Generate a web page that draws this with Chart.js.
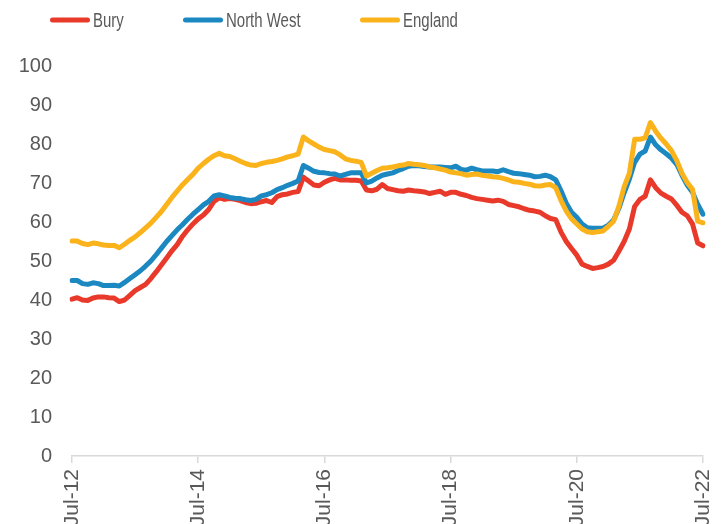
<!DOCTYPE html>
<html><head><meta charset="utf-8">
<script src="https://cdn.jsdelivr.net/npm/chart.js@4"></script>
<style>
html,body{margin:0;padding:0;background:#fff;overflow:hidden;}
#wrap{position:relative;width:724px;height:524px;}
</style></head><body>
<div id="wrap"><canvas id="c" width="724" height="524"></canvas></div>
<script>
const monthNames = ['Jan','Feb','Mar','Apr','May','Jun','Jul','Aug','Sep','Oct','Nov','Dec'];
const categories = [];
for (let i = 0; i <= 120; i++) {
  const m = 6 + i;
  categories.push(monthNames[m % 12] + '-' + String(12 + Math.floor(m / 12)));
}
const tickLabels = ['Jul-12','Jul-14','Jul-16','Jul-18','Jul-20','Jul-22'];
const yTicks = [0,10,20,30,40,50,60,70,80,90,100];
const seriesNames = ['Bury','North West','England'];

const bury = [40.2,40.6,40.0,39.9,40.5,40.8,40.8,40.6,40.5,39.6,
  40.0,41.2,42.4,43.2,44.0,45.5,47.2,49.0,50.8,52.6,
  54.2,56.3,58.0,59.5,60.8,61.8,63.2,65.3,66.2,65.8,
  66.0,65.8,65.5,65.0,64.7,64.8,65.2,65.5,65.0,66.5,
  67.0,67.2,67.6,67.8,71.5,70.5,69.5,69.3,70.2,70.8,
  71.2,70.8,70.8,70.7,70.7,70.5,68.2,68.0,68.4,69.6,
  68.6,68.3,68.0,67.9,68.2,68.0,67.9,67.7,67.3,67.6,
  67.9,67.1,67.6,67.6,67.1,66.8,66.3,66.0,65.8,65.6,
  65.4,65.6,65.3,64.5,64.2,63.9,63.4,63.0,62.8,62.5,
  61.6,60.9,60.6,57.4,55.0,53.2,51.5,49.2,48.6,48.1,
  48.3,48.6,49.2,50.2,52.5,55.0,58.2,64.0,65.8,66.6,
  70.8,68.8,67.4,66.6,65.9,64.3,62.5,61.6,59.5,54.6,
  53.9];
const northWest = [45.0,45.0,44.2,44.0,44.4,44.2,43.7,43.7,43.8,43.6,
  44.5,45.5,46.5,47.5,48.7,50.0,51.6,53.3,55.0,56.5,
  58.0,59.3,60.7,62.0,63.2,64.4,65.3,66.7,67.0,66.7,
  66.3,66.1,66.0,65.7,65.5,65.8,66.7,67.0,67.5,68.3,
  68.8,69.4,69.9,70.5,74.5,73.8,73.0,72.7,72.6,72.4,
  72.3,71.8,72.2,72.6,72.6,72.6,70.0,70.5,71.3,72.0,
  72.3,72.6,73.2,73.7,74.3,74.5,74.4,74.2,74.1,74.1,
  74.1,74.0,73.9,74.3,73.5,73.3,73.8,73.4,73.1,73.1,
  73.1,72.9,73.4,72.9,72.5,72.4,72.2,72.0,71.6,71.7,
  72.0,71.6,70.8,68.0,64.8,62.5,61.2,59.5,58.5,58.4,
  58.4,58.4,59.2,60.5,63.5,67.5,71.0,75.3,77.4,78.2,
  81.8,79.8,78.5,77.5,76.4,74.8,72.0,69.5,67.6,64.5,
  62.0];
const england = [55.1,55.1,54.5,54.2,54.6,54.4,54.1,54.0,54.0,53.4,
  54.3,55.3,56.2,57.3,58.5,59.7,61.2,62.7,64.5,66.3,
  67.9,69.5,70.9,72.2,73.8,75.0,76.1,77.0,77.6,77.0,
  76.8,76.2,75.6,75.0,74.6,74.5,75.0,75.3,75.5,75.8,
  76.2,76.7,77.0,77.4,81.8,80.8,80.0,79.2,78.6,78.3,
  78.0,77.2,76.2,75.8,75.6,75.3,71.8,72.5,73.2,73.8,
  73.9,74.1,74.4,74.6,75.0,74.8,74.7,74.5,74.1,73.9,
  73.6,73.3,72.8,72.6,72.4,72.0,72.2,72.3,72.0,71.8,
  71.6,71.5,71.2,70.8,70.3,70.2,69.9,69.7,69.3,69.2,
  69.5,69.6,68.8,65.5,62.8,60.8,59.5,58.2,57.5,57.3,
  57.5,57.7,58.9,60.2,64.0,69.0,72.5,81.2,81.2,81.6,
  85.5,83.3,81.5,80.0,78.3,75.8,72.5,70.1,68.4,60.2,
  59.8];

const colors = ['#E8392A','#1B88C1','#FBB31B'];
const FONT = '"Liberation Sans",Arial,sans-serif';
const textColor = '#595959';

const legendPlugin = {
  id: 'customLegend',
  afterDraw(chart) {
    const ctx = chart.ctx;
    const xs = [50, 183, 360];
    ctx.save();
    chart.data.datasets.forEach((ds, i) => {
      const x = xs[i];
      ctx.strokeStyle = ds.borderColor;
      ctx.lineWidth = 5;
      ctx.lineCap = 'round';
      ctx.beginPath();
      ctx.moveTo(x + 2.5, 20);
      ctx.lineTo(x + 37.5, 20);
      ctx.stroke();
      ctx.save();
      ctx.translate(x + 43, 27);
      ctx.scale(0.73, 1);
      ctx.fillStyle = textColor;
      ctx.font = '20.5px ' + FONT;
      ctx.textBaseline = 'alphabetic';
      ctx.textAlign = 'left';
      ctx.fillText(ds.label, 0, 0);
      ctx.restore();
    });
    ctx.restore();
  }
};

new Chart(document.getElementById('c'), {
  type: 'line',
  data: {
    labels: categories,
    datasets: [
      {label: seriesNames[0], data: bury, borderColor: colors[0], order: 3},
      {label: seriesNames[1], data: northWest, borderColor: colors[1], order: 2},
      {label: seriesNames[2], data: england, borderColor: colors[2], order: 1}
    ]
  },
  options: {
    responsive: false,
    animation: false,
    devicePixelRatio: 1,
    layout: {padding: {top: 66, right: 21, left: 0, bottom: 0}},
    elements: {
      line: {borderWidth: 5, tension: 0, borderJoinStyle: 'round', borderCapStyle: 'round', fill: false},
      point: {radius: 0, hoverRadius: 0}
    },
    plugins: {legend: {display: false}, tooltip: {enabled: false}},
    scales: {
      x: {
        type: 'category',
        offset: false,
        grid: {display: true, drawOnChartArea: false, drawTicks: true, tickLength: 7, color: '#D9D9D9', lineWidth: 1.5},
        border: {display: true, color: '#D9D9D9', width: 1.5},
        ticks: {
          autoSkip: false, minRotation: 90, maxRotation: 90, padding: 6,
          color: textColor, font: {family: FONT, size: 21},
          callback: function(v, idx) {
            const lab = categories[idx];
            return tickLabels.includes(lab) ? lab : null;
          }
        },
        afterFit: (s) => { s.height = 68; s.paddingLeft = 0; s.paddingRight = 0; }
      },
      y: {
        min: 0, max: 100,
        afterBuildTicks: (s) => { s.ticks = yTicks.map(v => ({value: v})); },
        grid: {display: false, drawTicks: false},
        border: {display: false},
        ticks: {padding: 20, color: textColor, font: {family: FONT, size: 20}},
        afterFit: (s) => { s.width = 72; }
      }
    }
  },
  plugins: [legendPlugin]
});
</script>
</body></html>
